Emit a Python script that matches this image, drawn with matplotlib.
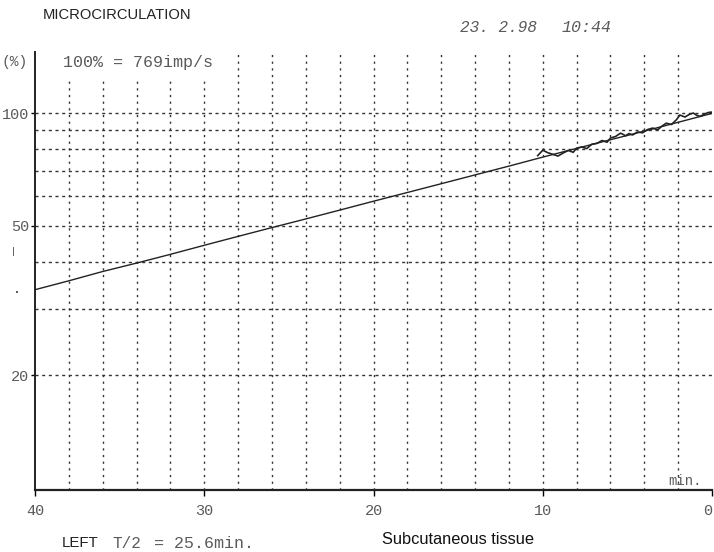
import matplotlib
matplotlib.use("Agg")
import matplotlib.pyplot as plt
from matplotlib.ticker import FixedLocator, NullLocator, NullFormatter

# ---- data ----
smooth_t = [40, 38, 36, 34, 32, 30, 28, 26, 24, 22, 20, 18, 16, 14, 12, 10, 8, 6, 4, 2, 0]
smooth_v = [33.8, 35.7, 37.8, 39.8, 42.0, 44.4, 46.9, 49.5, 52.2, 55.1, 58.2, 61.4,
            64.8, 68.4, 72.2, 76.3, 80.5, 84.9, 89.5, 94.5, 99.8]

noisy_t = [10.3, 10.0, 9.7, 9.4, 9.1, 8.8, 8.5, 8.2, 8.0, 7.7, 7.4, 7.1, 6.8, 6.5, 6.2,
           6.0, 5.7, 5.4, 5.1, 4.9, 4.7, 4.4, 4.1, 3.8, 3.5, 3.2, 3.0, 2.7, 2.4, 2.1,
           1.9, 1.6, 1.3, 1.1, 0.9, 0.7, 0.4, 0.2, 0.0]
noisy_v = [77.0, 79.6, 78.4, 77.6, 76.8, 78.2, 79.5, 78.6, 80.6, 81.2, 80.4, 82.6, 83.0,
           84.5, 83.6, 85.8, 86.6, 88.4, 87.0, 88.2, 87.4, 89.0, 88.6, 90.4, 91.2, 90.2,
           92.0, 94.0, 93.2, 96.0, 98.8, 97.6, 99.4, 100.0, 98.6, 98.0, 99.6, 100.4, 100.6]

x_ticks = [40, 30, 20, 10, 0]
x_labels = ["40", "30", "20", "10", "0"]
x_grid = [38, 36, 34, 32, 30, 28, 26, 24, 22, 20, 18, 16, 14, 12, 10, 8, 6, 4, 2]
y_ticks = [100, 50, 20]
y_labels = ["100", "50", "20"]
y_grid = [20, 30, 40, 50, 60, 70, 80, 90, 100]

W, H = 714, 552
fig = plt.figure(figsize=(W / 100, H / 100), dpi=100)
fig.patch.set_facecolor("white")

ax_l, ax_r, ax_t, ax_b = 35, 712, 52, 490
ax = fig.add_axes([ax_l / W, 1 - ax_b / H, (ax_r - ax_l) / W, (ax_b - ax_t) / H])
ax.set_yscale("log")
ax.set_xlim(40, 0)
ax.set_ylim(9.88, 145.5)

mono = "Liberation Mono"
gray = "#5a5a5a"

# grid (lines under the "100% = ..." caption start lower)
short_top = (ax_b - 77) / (ax_b - ax_t)
for v in y_grid:
    ax.axhline(v, color="#333333", lw=1.0, ls=(0, (2.2, 2.6)), zorder=1)
for t in x_grid:
    top = short_top if t >= 30 else 1.0
    ax.axvline(t, ymax=top, color="#333333", lw=1.0, ls=(0, (1.6, 3.2)), zorder=1)

# curves
ax.plot(smooth_t, smooth_v, color="#222222", lw=1.0, zorder=3)
ax.plot(noisy_t, noisy_v, color="#222222", lw=1.2, zorder=3)

for s in ["top", "right"]:
    ax.spines[s].set_visible(False)
ax.spines["left"].set_linewidth(1.4)
ax.spines["bottom"].set_linewidth(1.6)
ax.spines["left"].set_color("#222222")
ax.spines["bottom"].set_color("#222222")

ax.yaxis.set_major_locator(FixedLocator(y_ticks))
ax.set_yticklabels(y_labels)
ax.yaxis.set_minor_locator(NullLocator())
ax.yaxis.set_minor_formatter(NullFormatter())
ax.set_xticks(x_ticks)
ax.set_xticklabels(x_labels)
ax.tick_params(axis="y", length=3, width=1, pad=1, labelsize=11, labelcolor=gray)
ax.tick_params(axis="x", length=4, width=1, pad=6, labelsize=11, labelcolor=gray)
for lab in ax.get_xticklabels() + ax.get_yticklabels():
    lab.set_family(mono)
ax.get_xticklabels()[-1].set_horizontalalignment("right")

# texts
fig.text(43 / W, 1 - 15 / H, "MICROCIRCULATION", family="Liberation Sans",
         fontsize=10.6, va="center", ha="left", color="#222222")
fig.text(460 / W, 1 - 27 / H, "23. 2.98", family=mono,
         fontsize=11.5, va="center", ha="left", color=gray, style="italic")
fig.text(562 / W, 1 - 27 / H, "10:44", family=mono,
         fontsize=12, va="center", ha="left", color=gray, style="italic")
fig.text(2 / W, 1 - 62 / H, "(%)", family=mono, fontsize=10.5, va="center",
         ha="left", color=gray)
fig.text(63 / W, 1 - 62 / H, "100% = 769imp/s", family=mono, fontsize=12,
         va="center", ha="left", color=gray)
fig.text(668 / W, 1 - 481 / H, "min.", family=mono, fontsize=10, va="center",
         ha="left", color=gray)
fig.text(13 / W, 1 - 251 / H, "|", family="DejaVu Sans", fontsize=6, va="center",
         ha="center", color="#333333")
fig.text(17 / W, 1 - 293 / H, "•", family="DejaVu Sans", fontsize=5, va="center",
         ha="center", color="#333333")
fig.text(62 / W, 1 - 543 / H, "LEFT", family="Liberation Sans", fontsize=10.8,
         va="center", ha="left", color="#222222")
fig.text(112 / W, 1 - 543 / H, "T/2", family=mono, fontsize=11.5,
         va="center", ha="left", color=gray)
fig.text(154 / W, 1 - 543 / H, "= 25.6min.", family=mono, fontsize=12,
         va="center", ha="left", color=gray)
fig.text(382 / W, 1 - 539 / H, "Subcutaneous tissue", family="Liberation Sans",
         fontsize=11.8, va="center", ha="left", color="#111111")

fig.savefig("out.png", dpi=100, facecolor="white")
